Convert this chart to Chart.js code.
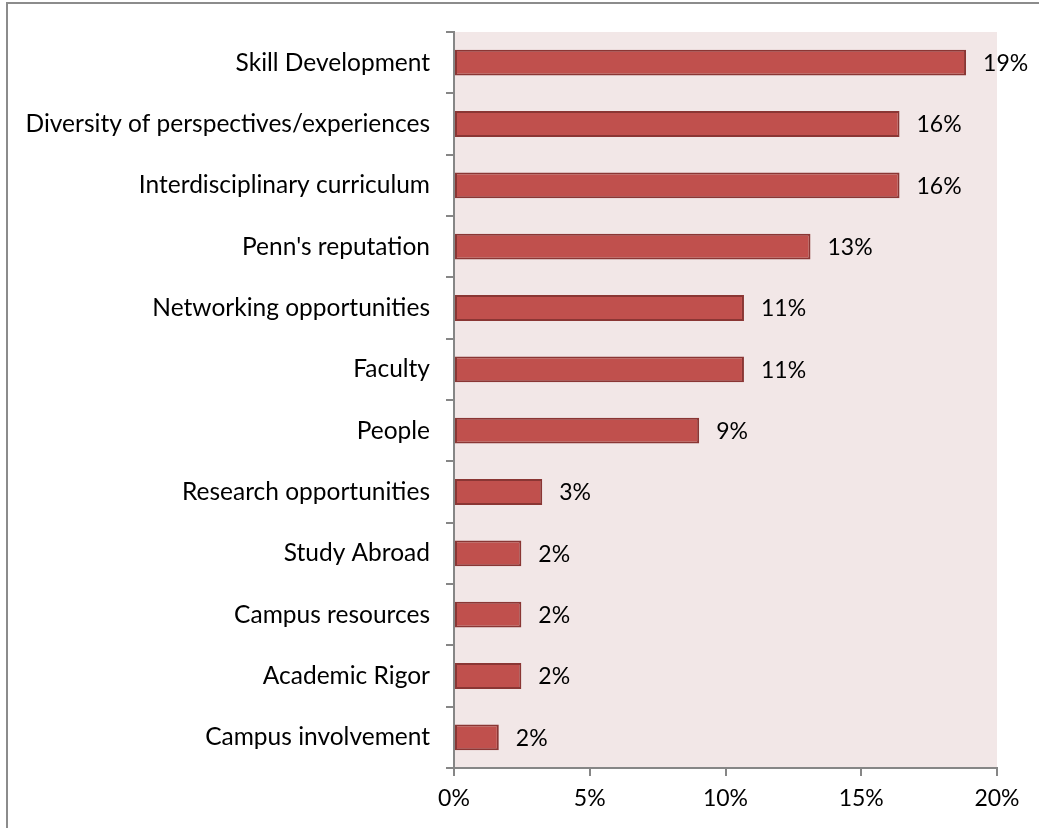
<!DOCTYPE html>
<html>
<head>
<meta charset="utf-8">
<script src="https://cdn.jsdelivr.net/npm/chart.js@4/dist/chart.umd.min.js"></script>
<style>
  html, body { margin: 0; padding: 0; background: #fff; overflow: hidden; }
  #wrap { position: relative; width: 1039px; height: 828px; }
  #frame { position: absolute; left: 6px; top: 2px; width: 1100px; height: 900px; border: 2px solid #8c8c8c; }
  #c { position: absolute; left: 0; top: 0; }
</style>
</head>
<body>
<div id="wrap">
  <div id="frame"></div>
  <canvas id="c" width="1039" height="828"></canvas>
</div>
<script>
// Reasons chosen, share of responses (%)
var categories = ['Skill Development', 'Diversity of perspectives/experiences', 'Interdisciplinary curriculum',
    "Penn's reputation", 'Networking opportunities', 'Faculty', 'People', 'Research opportunities',
    'Study Abroad', 'Campus resources', 'Academic Rigor', 'Campus involvement'];
var values = [18.86, 16.41, 16.41, 13.13, 10.68, 10.68, 9.03, 3.25, 2.48, 2.48, 2.48, 1.65];
var xTicks = [0, 5, 10, 15, 20];

var FONT = 'Lato, "Noto Sans", sans-serif';

// pink plot background
var plotBg = {
    id: 'plotBg',
    beforeDraw: function (chart) {
        var a = chart.chartArea;
        var ctx = chart.ctx;
        ctx.save();
        ctx.fillStyle = '#f2e7e7';
        ctx.fillRect(a.left, a.top, a.right - a.left, a.bottom - a.top);
        ctx.restore();
    }
};

// value labels right of the bars
var barLabels = {
    id: 'barLabels',
    afterDatasetsDraw: function (chart) {
        var ctx = chart.ctx;
        var meta = chart.getDatasetMeta(0);
        ctx.save();
        ctx.font = '23px ' + FONT;
        ctx.fillStyle = '#000';
        ctx.textBaseline = 'middle';
        ctx.textAlign = 'left';
        meta.data.forEach(function (bar, i) {
            ctx.fillText(Math.round(values[i]) + '%', bar.x + 17, bar.y + 1);
        });
        ctx.restore();
    }
};

var ctx = document.getElementById('c').getContext('2d');
var chart = new Chart(ctx, {
    type: 'bar',
    data: {
        labels: categories,
        datasets: [{
            data: values,
            backgroundColor: '#c0504d',
            borderColor: '#8a3634',
            borderWidth: 2,
            borderSkipped: false,
            categoryPercentage: 1,
            barPercentage: 0.42
        }]
    },
    options: {
        indexAxis: 'y',
        responsive: false,
        animation: false,
        layout: { padding: { top: 32, right: 42, left: 0, bottom: 0 } },
        plugins: {
            legend: { display: false },
            tooltip: { enabled: false }
        },
        scales: {
            x: {
                min: 0,
                max: 20,
                afterFit: function (s) { s.height = 60; },
                afterBuildTicks: function (s) {
                    s.ticks = xTicks.map(function (v) { return { value: v }; });
                },
                grid: {
                    drawOnChartArea: false,
                    tickLength: 8,
                    color: '#868686',
                    lineWidth: 2
                },
                border: { color: '#868686', width: 2 },
                ticks: {
                    color: '#000',
                    padding: 9,
                    font: { family: FONT, size: 23 },
                    callback: function (v) { return v + '%'; }
                }
            },
            y: {
                afterFit: function (s) { s.width = 454; },
                grid: {
                    offset: true,
                    drawOnChartArea: false,
                    tickLength: 8,
                    color: '#868686',
                    lineWidth: 2
                },
                border: { color: '#868686', width: 2 },
                ticks: {
                    color: '#000',
                    padding: 16,
                    autoSkip: false,
                    font: { family: FONT, size: 24.5 }
                }
            }
        }
    },
    plugins: [plotBg, barLabels]
});
</script>
</body>
</html>
